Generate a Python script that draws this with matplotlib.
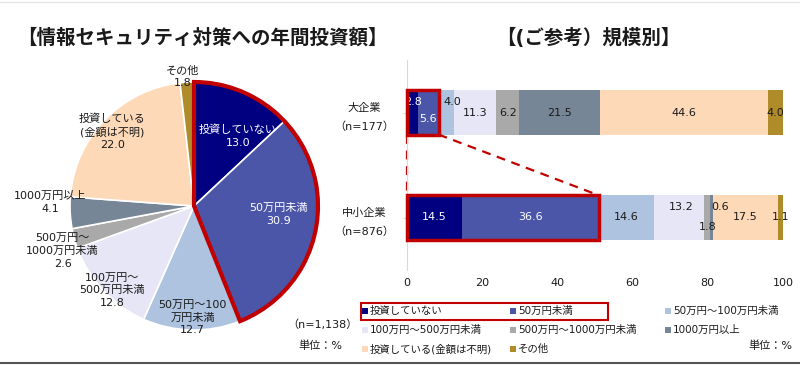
import matplotlib
matplotlib.use("Agg")
import matplotlib.pyplot as plt
from matplotlib.patches import Wedge, Rectangle
from matplotlib.lines import Line2D
import numpy as np

# DejaVu for digits and Latin (wide, like the original), Noto CJK for Japanese
plt.rcParams["font.family"] = ["DejaVu Sans", "Noto Sans CJK JP"]

categories = ["投資していない", "50万円未満", "50万円～100万円未満", "100万円～500万円未満",
              "500万円～1000万円未満", "1000万円以上", "投資している(金額は不明)", "その他"]
colors = ["#000080", "#4B56A8", "#AEC3DF", "#E6E6F6", "#A9A9A9", "#778696", "#FDD9B8", "#B08B2A"]
overall = [13.0, 30.9, 12.7, 12.8, 2.6, 4.1, 22.0, 1.8]
large = [2.8, 5.6, 4.0, 11.3, 6.2, 21.5, 44.6, 4.0]
sme = [14.5, 36.6, 14.6, 13.2, 1.8, 0.6, 17.5, 1.1]
groups = ["大企業\n（n=177）", "中小企業\n（n=876）"]
pie_labels = ["投資していない", "50万円未満", "50万円～100\n万円未満", "100万円～\n500万円未満",
              "500万円～\n1000万円未満", "1000万円以上", "投資している\n(金額は不明)", "その他"]

RED = "#C00000"
TXT = "#1a1a1a"
W, H = 800, 366

def fx(px):
    return px / W

def fy(py):
    return 1 - py / H

fig = plt.figure(figsize=(8, 3.66), dpi=100)
fig.patch.set_facecolor("white")

# ---- pie ----
R = 124
cx, cy = 194, 206
ax1 = fig.add_axes([fx(cx - R), fy(cy + R), 2 * R / W, 2 * R / H])
wedges, _ = ax1.pie(overall, colors=colors, startangle=90, counterclock=False, radius=1,
                    wedgeprops=dict(edgecolor="white", linewidth=1.2))
for w in wedges:
    w.set_clip_on(False)
ax1.set_xlim(-1, 1)
ax1.set_ylim(-1, 1)
ax1.set_aspect("equal")
ax1.axis("off")

# red outline round the first two slices
share = (overall[0] + overall[1]) / sum(overall) * 360
ax1.add_patch(Wedge((0, 0), 1.0, 90 - share, 90, fill=False, edgecolor=RED,
                    linewidth=3, joinstyle="miter", clip_on=False))

# label positions (layout only)
pie_pos = [(0.355, 0.565), (0.68, -0.07), (-0.01, -0.90), (-0.66, -0.68),
           (-1.06, -0.36), (-1.16, 0.03), (-0.66, 0.60), (-0.09, 1.04)]
for i, (lab, val) in enumerate(zip(pie_labels, overall)):
    c = "white" if i < 2 else TXT
    ax1.text(pie_pos[i][0], pie_pos[i][1], f"{lab}\n{val:.1f}", ha="center", va="center",
             fontsize=8, color=c, linespacing=1.35, clip_on=False)

# ---- stacked bars ----
ax2 = fig.add_axes([fx(407), fy(270), fx(783) - fx(407), (270 - 60) / H])
ypos = [1, 0]
bh = 0.42
data = np.array([large, sme])
lefts = np.zeros(2)
for j in range(len(categories)):
    ax2.barh(ypos, data[:, j], left=lefts, height=bh, color=colors[j], edgecolor="none")
    lefts += data[:, j]

# value labels with small nudges in pixels (dx, dy)
nudges = [
    {0: (1, 11), 1: (0, -7), 2: (6, 11)},
    {3: (2, 11), 4: (1, -10), 5: (9, 11)},
]
for r, row in enumerate(data):
    starts = np.concatenate([[0], np.cumsum(row)[:-1]])
    for j, v in enumerate(row):
        dx, dy = nudges[r].get(j, (0, 0))
        c = "white" if j < 2 else TXT
        ax2.annotate(f"{v:.1f}", (starts[j] + v / 2, ypos[r]),
                     xytext=(dx / 1.389, dy / 1.389), textcoords="offset points",
                     ha="center", va="center", fontsize=8, color=c)

# red boxes and dashed connectors
for r in range(2):
    w = data[r, 0] + data[r, 1]
    ax2.add_patch(Rectangle((0, ypos[r] - bh / 2), w, bh, fill=False,
                            edgecolor=RED, linewidth=2.5, clip_on=False, zorder=5))
wl = data[0, 0] + data[0, 1]
ws = data[1, 0] + data[1, 1]
ax2.plot([0, 0], [1 - bh / 2, bh / 2], color=RED, linestyle=(0, (4, 3)), linewidth=1.6, clip_on=False)
ax2.plot([wl, ws], [1 - bh / 2, bh / 2], color=RED, linestyle=(0, (4, 3)), linewidth=1.6, clip_on=False)

ax2.set_xlim(0, 100)
ax2.set_ylim(-0.5, 1.5)
ax2.set_xticks([0, 20, 40, 60, 80, 100])
ax2.tick_params(axis="x", length=0, labelsize=8, pad=6, colors=TXT)
ax2.set_yticks(ypos)
ax2.set_yticklabels(groups, fontsize=8, linespacing=2.0)
for t in ax2.get_yticklabels():
    t.set_multialignment("center")
ax2.tick_params(axis="y", length=3, color="#D9D9D9", pad=6, labelcolor=TXT)
for s in ["top", "right", "bottom"]:
    ax2.spines[s].set_visible(False)
ax2.spines["left"].set_color("#D9D9D9")

# ---- legend (manual grid) ----
col_x = [365, 513, 668]
row_y = [311, 330, 349]
for i, (lab, c) in enumerate(zip(categories, colors)):
    x = col_x[i % 3]
    y = row_y[i // 3]
    fig.add_artist(Rectangle((fx(x - 3), fy(y + 3)), 6 / W, 6 / H, transform=fig.transFigure,
                             facecolor=c, edgecolor="none"))
    fig.text(fx(x + 5), fy(y), lab, ha="left", va="center", fontsize=7.5, color=TXT)
fig.add_artist(Rectangle((fx(361), fy(320)), 247 / W, 17 / H, transform=fig.transFigure,
                         fill=False, edgecolor=RED, linewidth=1.5))

# ---- titles and notes ----
fig.text(fx(202), fy(38), "【情報セキュリティ対策への年間投資額】", ha="center", va="center",
         fontsize=14, fontweight="bold", color=TXT)
fig.text(fx(588), fy(38), "【(ご参考）規模別】", ha="center", va="center",
         fontsize=14, fontweight="bold", color=TXT)
fig.text(fx(322), fy(325), "（n=1,138）", ha="center", va="center", fontsize=8, color=TXT)
fig.text(fx(320), fy(346), "単位：%", ha="center", va="center", fontsize=8, color=TXT)
fig.text(fx(770), fy(346), "単位：%", ha="center", va="center", fontsize=8, color=TXT)

fig.add_artist(Line2D([0, 1], [fy(2), fy(2)], transform=fig.transFigure, color="#E6E6E6", linewidth=1))
fig.add_artist(Line2D([0, 1], [fy(363), fy(363)], transform=fig.transFigure, color="#555555", linewidth=1.5))

fig.savefig("out.png", dpi=100)
